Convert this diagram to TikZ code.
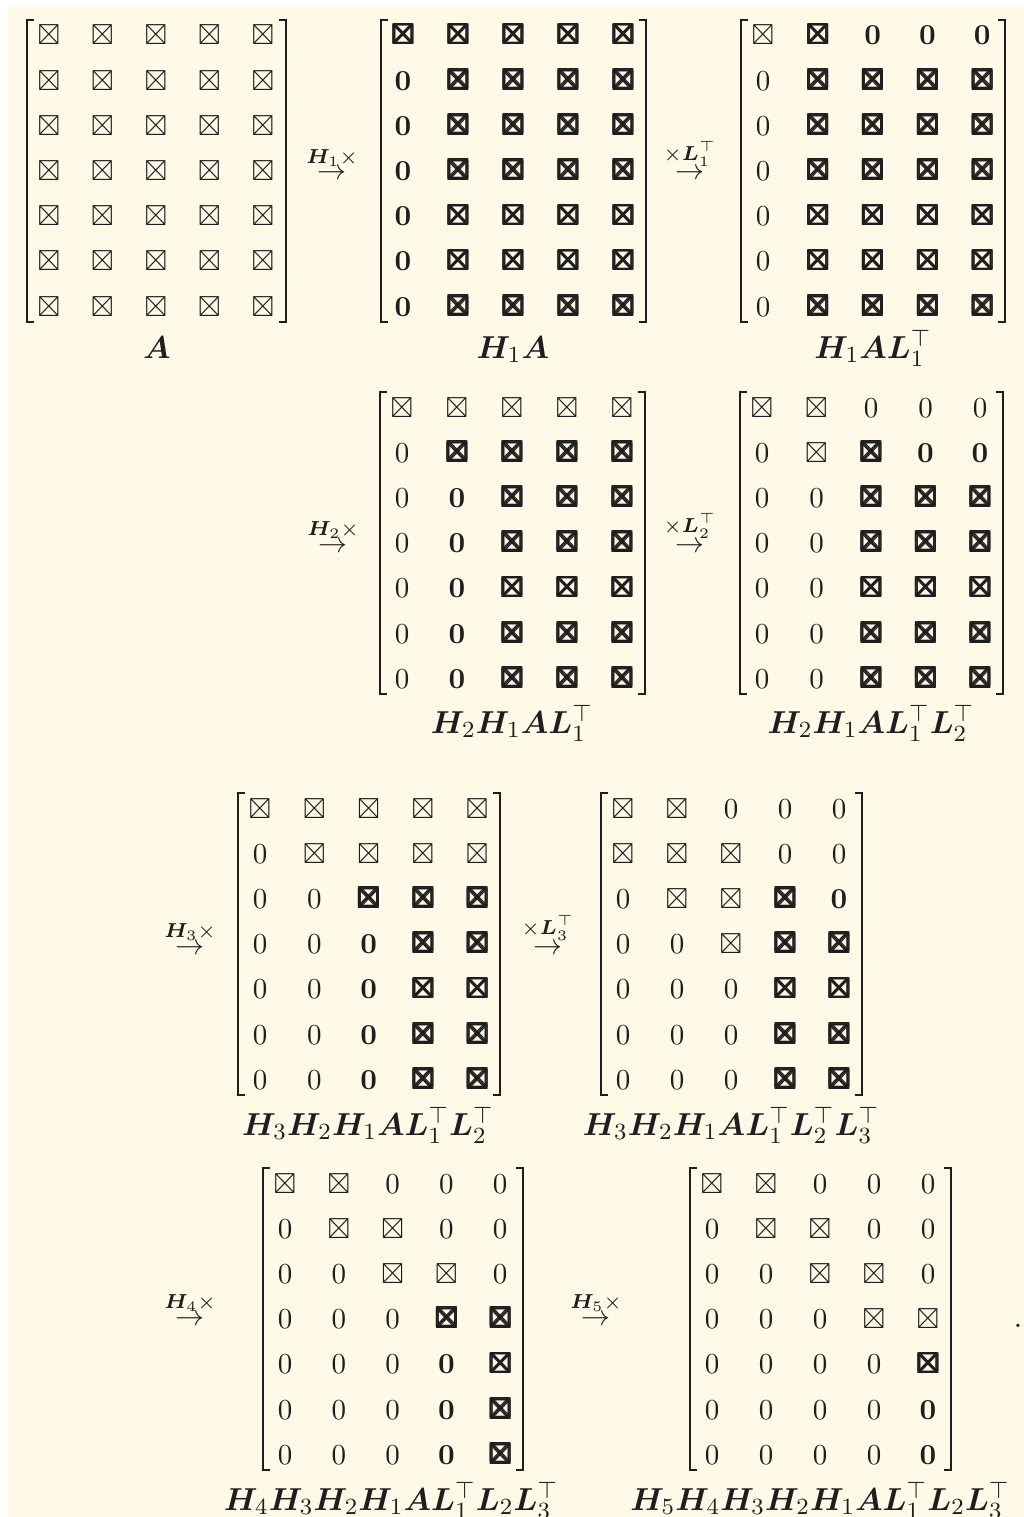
\documentclass[tikz,border=0pt]{standalone}
\usepackage{amsmath,amssymb,bm}
\usepackage{tikz}
\definecolor{Cream}{HTML}{FFFAE8}
\definecolor{Ink}{HTML}{1E1E1E}

% entries: x = fill-in, X = bold fill-in, z = zero, Z = bold zero
\newcommand\entx{$\boxtimes$}
\newcommand\entX{\ooalign{$\boxtimes$\cr\kern0.6pt$\boxtimes$\cr\raisebox{0.6pt}{$\boxtimes$}\cr\kern0.6pt\raisebox{0.6pt}{$\boxtimes$}\cr\kern0.3pt\raisebox{0.3pt}{$\boxtimes$}\cr}}
\newcommand\entz{$0$}
\newcommand\entZ{$\bm{0}$}

% #1 name, #2 x of first column, #3 y of first row, #4 column step, #5 rows
\newcommand\drawmat[5]{%
  \foreach \row [count=\i] in {#5} {
    \foreach \e [count=\j] in \row {
      \node[entry] (#1-\i-\j) at ({#2+(\j-1)*#4},{#3+(\i-1)*45.2+10}) {\csname ent\e\endcsname};
    }
  }
  \draw[brk] ({#2-15},{#3-15}) -| ({#2-22},{#3+287}) -- ++(7,0);
  \draw[brk] ({#2+4*#4+16},{#3-15}) -| ({#2+4*#4+23},{#3+287}) -- ++(-7,0);
}

\begin{document}
\begin{tikzpicture}[
    x=0.345pt,y=-0.345pt,
    entry/.style={inner sep=0pt,anchor=base,text=Ink},
    brk/.style={draw=Ink,line width=0.6pt},
    lbl/.style={inner sep=0pt,anchor=base,text=Ink,font=\fontsize{10.95}{13}\selectfont},
    op/.style={inner sep=0pt,anchor=base,text=Ink}
  ]
  \useasboundingbox (0,0) rectangle (1023,1517);
  \fill[Cream] (8,7) rectangle (1023,1517);

  % first line
  \drawmat{ma}{49}{35}{53.5}{{x,x,x,x,x},{x,x,x,x,x},{x,x,x,x,x},{x,x,x,x,x},{x,x,x,x,x},{x,x,x,x,x},{x,x,x,x,x}}
  \drawmat{mb}{403}{35}{55}{{X,X,X,X,X},{Z,X,X,X,X},{Z,X,X,X,X},{Z,X,X,X,X},{Z,X,X,X,X},{Z,X,X,X,X},{Z,X,X,X,X}}
  \drawmat{mc}{763}{35}{54.8}{{x,X,Z,Z,Z},{z,X,X,X,X},{z,X,X,X,X},{z,X,X,X,X},{z,X,X,X,X},{z,X,X,X,X},{z,X,X,X,X}}
  \node[op] (opa) at (332,180) {$\stackrel{\bm{H}_1\times}{\rightarrow}$};
  \node[op] (opb) at (690,180) {$\stackrel{\times\bm{L}_1^\top}{\rightarrow}$};
  \node[lbl] (la) at (157,358) {$\bm{A}$};
  \node[lbl] (lb) at (513,358) {$\bm{H}_1\bm{A}$};
  \node[lbl] (lc) at (873,358) {$\bm{H}_1\bm{A}\bm{L}_1^\top$};

  % second line
  \drawmat{md}{402}{407}{55}{{x,x,x,x,x},{z,X,X,X,X},{z,Z,X,X,X},{z,Z,X,X,X},{z,Z,X,X,X},{z,Z,X,X,X},{z,Z,X,X,X}}
  \drawmat{me}{762}{407}{54.5}{{x,x,z,z,z},{z,x,X,Z,Z},{z,z,X,X,X},{z,z,X,X,X},{z,z,X,X,X},{z,z,X,X,X},{z,z,X,X,X}}
  \node[op] (opc) at (333,552) {$\stackrel{\bm{H}_2\times}{\rightarrow}$};
  \node[op] (opd) at (690,552) {$\stackrel{\times\bm{L}_2^\top}{\rightarrow}$};
  \node[lbl] (ld) at (512,733) {$\bm{H}_2\bm{H}_1\bm{A}\bm{L}_1^\top$};
  \node[lbl] (le) at (871,733) {$\bm{H}_2\bm{H}_1\bm{A}\bm{L}_1^\top\bm{L}_2^\top$};

  % third line
  \drawmat{mf}{260}{808}{54.3}{{x,x,x,x,x},{z,x,x,x,x},{z,z,X,X,X},{z,z,Z,X,X},{z,z,Z,X,X},{z,z,Z,X,X},{z,z,Z,X,X}}
  \drawmat{mg}{623}{808}{54}{{x,x,z,z,z},{x,x,x,z,z},{z,x,x,X,Z},{z,z,x,X,X},{z,z,z,X,X},{z,z,z,X,X},{z,z,z,X,X}}
  \node[op] (ope) at (190,954) {$\stackrel{\bm{H}_3\times}{\rightarrow}$};
  \node[op] (opf) at (548,954) {$\stackrel{\times\bm{L}_3^\top}{\rightarrow}$};
  \node[lbl] (lf) at (368,1135) {$\bm{H}_3\bm{H}_2\bm{H}_1\bm{A}\bm{L}_1^\top\bm{L}_2^\top$};
  \node[lbl] (lg) at (731,1135) {$\bm{H}_3\bm{H}_2\bm{H}_1\bm{A}\bm{L}_1^\top\bm{L}_2^\top\bm{L}_3^\top$};

  % fourth line
  \drawmat{mh}{285}{1183}{53.8}{{x,x,z,z,z},{z,x,x,z,z},{z,z,x,x,z},{z,z,z,X,X},{z,z,z,Z,X},{z,z,z,Z,X},{z,z,z,Z,X}}
  \drawmat{mi}{712}{1183}{54}{{x,x,z,z,z},{z,x,x,z,z},{z,z,x,x,z},{z,z,z,x,x},{z,z,z,z,X},{z,z,z,z,Z},{z,z,z,z,Z}}
  \node[op] (opg) at (190,1325) {$\stackrel{\bm{H}_4\times}{\rightarrow}$};
  \node[op] (oph) at (596,1325) {$\stackrel{\bm{H}_5\times}{\rightarrow}$};
  \node[lbl] (lh) at (391,1510) {$\bm{H}_4\bm{H}_3\bm{H}_2\bm{H}_1\bm{A}\bm{L}_1^\top\bm{L}_2\bm{L}_3^\top$};
  \node[lbl] (li) at (820,1510) {$\bm{H}_5\bm{H}_4\bm{H}_3\bm{H}_2\bm{H}_1\bm{A}\bm{L}_1^\top\bm{L}_2\bm{L}_3^\top$};
  \node[lbl] (stop) at (1018,1327) {.};
\end{tikzpicture}
\end{document}
